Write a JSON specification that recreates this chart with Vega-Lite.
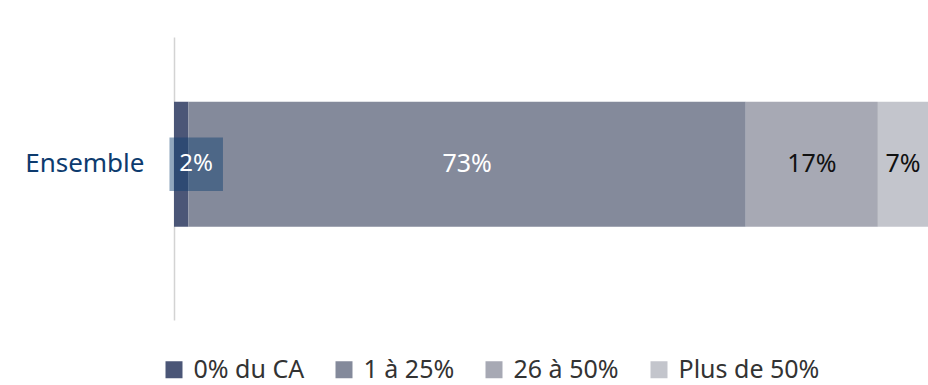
{
  "$schema": "https://vega.github.io/schema/vega-lite/v6.json",
  "width": 754,
  "height": 283,
  "autosize": "none",
  "padding": {"left": 174, "top": 37, "right": 0, "bottom": 65},
  "background": "white",
  "config": {
    "font": "Noto Sans",
    "view": {"stroke": null}
  },
  "data": {
    "values": [
      {"groupe": "Ensemble", "cat": "0% du CA", "ordre": 1, "valeur": 1.9, "label": "2%"},
      {"groupe": "Ensemble", "cat": "1 à 25%", "ordre": 2, "valeur": 73.4, "label": "73%"},
      {"groupe": "Ensemble", "cat": "26 à 50%", "ordre": 3, "valeur": 17.4, "label": "17%"},
      {"groupe": "Ensemble", "cat": "Plus de 50%", "ordre": 4, "valeur": 6.6, "label": "7%"}
    ]
  },
  "transform": [
    {"stack": "valeur", "groupby": ["groupe"], "sort": [{"field": "ordre"}], "offset": "normalize", "as": ["x0", "x1"]},
    {"calculate": "(datum.x0 + datum.x1) / 2", "as": "mid"}
  ],
  "encoding": {
    "y": {
      "field": "groupe",
      "type": "nominal",
      "title": null,
      "scale": {"paddingInner": 0, "paddingOuter": 0.632, "align": 0.41},
      "axis": {
        "ticks": false,
        "domainColor": "#d3d3d3",
        "domainWidth": 1.5,
        "labelFontSize": 26,
        "labelColor": "#0d3b6e",
        "labelPadding": 30
      }
    }
  },
  "layer": [
    {
      "mark": {"type": "bar"},
      "encoding": {
        "x": {"field": "x0", "type": "quantitative", "scale": {"domain": [0, 1], "nice": false, "zero": true}, "axis": null},
        "x2": {"field": "x1"},
        "color": {
          "field": "cat",
          "type": "nominal",
          "sort": ["0% du CA", "1 à 25%", "26 à 50%", "Plus de 50%"],
          "scale": {"domain": ["0% du CA", "1 à 25%", "26 à 50%", "Plus de 50%"], "range": ["#4b5677", "#848a9b", "#a7a9b4", "#c3c5cc"]},
          "legend": {
            "title": null,
            "orient": "none",
            "direction": "horizontal",
            "legendX": -12.5,
            "legendY": 320,
            "symbolType": "square",
            "symbolSize": 289,
            "symbolStrokeWidth": 0,
            "labelFontSize": 25,
            "labelColor": "#333333",
            "labelLimit": 300,
            "labelOffset": 7,
            "columnPadding": 27,
            "symbolOffset": 0
          }
        }
      }
    },
    {
      "transform": [{"filter": "datum.ordre == 1"}],
      "mark": {"type": "point", "shape": "square", "filled": true, "size": 2860, "color": "#0b3c6f", "opacity": 0.45, "xOffset": 15},
      "encoding": {
        "x": {"field": "mid", "type": "quantitative"}
      }
    },
    {
      "transform": [{"filter": "datum.ordre == 1"}],
      "mark": {"type": "text", "fontSize": 24, "color": "white", "xOffset": 15, "baseline": "middle"},
      "encoding": {
        "x": {"field": "mid", "type": "quantitative"},
        "text": {"field": "label"}
      }
    },
    {
      "transform": [{"filter": "datum.ordre > 1"}],
      "mark": {"type": "text", "fontSize": 25, "baseline": "middle"},
      "encoding": {
        "x": {"field": "mid", "type": "quantitative"},
        "text": {"field": "label"},
        "color": {
          "condition": {"test": "datum.ordre == 2", "value": "white"},
          "value": "#111111"
        }
      }
    }
  ]
}
